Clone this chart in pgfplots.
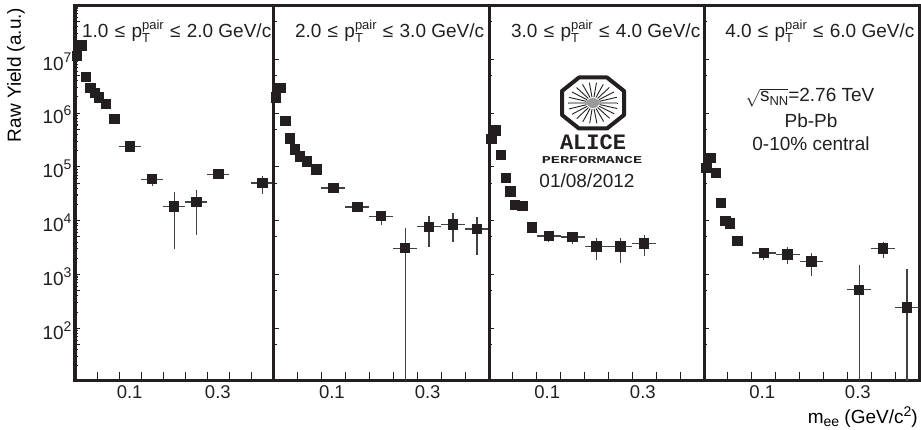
\documentclass[border=0pt]{standalone}
\usepackage{pgfplots}
\usepackage{pgfplotstable}
\usepackage{fontspec}
\setmainfont{Liberation Sans}
\newfontfamily\logofont{Liberation Mono}
\pgfplotsset{compat=1.18}
\definecolor{ink}{HTML}{231F20}
\newcommand{\tenp}[1]{10\raisebox{8pt}{\fontsize{14}{14}\selectfont #1}}
\newcommand{\ptpair}{p\rlap{\raisebox{-5pt}{\fontsize{13}{13}\selectfont T}}\raisebox{8pt}{\fontsize{13}{13}\selectfont pair}}
\newcommand{\panellabel}[2]{\fontsize{19}{21}\selectfont #1\ \kern1pt≤\kern1pt\ \ptpair\ \kern1pt≤\kern1pt\ #2 GeV/c}

\pgfplotstableread{
x y ex hi lo
0.005 1.16e7 0.005 1.16e7 1.16e7
0.015 1.80e7 0.005 1.80e7 1.80e7
0.025 4.68e6 0.005 4.68e6 4.68e6
0.035 2.96e6 0.005 2.96e6 2.96e6
0.045 2.36e6 0.005 2.36e6 2.36e6
0.055 1.95e6 0.005 1.95e6 1.95e6
0.07  1.49e6 0.01  1.49e6 1.49e6
0.09  7.87e5 0.01  7.87e5 7.87e5
0.125 2.38e5 0.025 2.38e5 2.38e5
0.175 5.9e4  0.025 7.3e4  4.5e4
0.225 1.83e4 0.025 3.38e4 3.0e3
0.275 2.24e4 0.025 3.8e4  5.5e3
0.325 7.3e4  0.025 8.3e4  6.2e4
0.425 5.05e4 0.025 6.7e4  3.2e4
}\panelA
\pgfplotstableread{
x y ex hi lo
0.005 1.96e6 0.005 1.96e6 1.96e6
0.015 2.92e6 0.005 2.92e6 2.92e6
0.025 7.13e5 0.005 7.13e5 7.13e5
0.035 3.35e5 0.005 3.35e5 3.35e5
0.045 2.09e5 0.005 2.09e5 2.09e5
0.055 1.57e5 0.005 1.57e5 1.57e5
0.07  1.25e5 0.01  1.25e5 1.25e5
0.09  8.9e4  0.01  8.9e4  8.9e4
0.125 4.07e4 0.025 4.07e4 4.07e4
0.175 1.81e4 0.025 1.81e4 1.81e4
0.225 1.21e4 0.025 1.5e4  8.3e3
0.275 3.09e3 0.025 7.2e3  10.5
0.325 7.7e3  0.025 1.2e4  3.3e3
0.375 8.5e3  0.025 1.4e4  4.05e3
0.425 7.0e3  0.025 1.17e4 2.3e3
}\panelB
\pgfplotstableread{
x y ex hi lo
0.005 3.26e5 0.005 3.26e5 3.26e5
0.015 4.79e5 0.005 4.79e5 4.79e5
0.025 1.67e5 0.005 1.67e5 1.67e5
0.035 6.3e4  0.005 6.3e4  6.3e4
0.045 3.48e4 0.005 3.48e4 3.48e4
0.055 1.94e4 0.005 1.94e4 1.94e4
0.07  1.89e4 0.01  1.89e4 1.89e4
0.09  7.5e3  0.01  7.5e3  7.5e3
0.125 5.2e3  0.025 6.3e3  4.0e3
0.175 4.95e3 0.025 6.3e3  3.63e3
0.225 3.3e3  0.025 4.8e3  1.85e3
0.275 3.3e3  0.025 4.8e3  1.63e3
0.325 3.8e3  0.025 5.5e3  2.2e3
}\panelC
\pgfplotstableread{
x y ex hi lo
0.005 9.57e4 0.005 9.57e4 9.57e4
0.015 1.47e5 0.005 1.47e5 1.47e5
0.025 7.8e4  0.005 7.8e4  7.8e4
0.035 2.11e4 0.005 2.11e4 2.11e4
0.045 9.8e3  0.005 9.8e3  9.8e3
0.055 8.9e3  0.005 8.9e3  8.9e3
0.07  4.2e3  0.01  4.2e3  4.2e3
0.125 2.5e3  0.025 3.1e3  1.85e3
0.175 2.36e3 0.025 3.2e3  1.57e3
0.225 1.75e3 0.025 2.56e3 9.5e2
0.325 5.2e2  0.025 1.48e3 10.5
0.375 3.05e3 0.025 4.0e3  2.05e3
0.425 2.45e2 0.025 1.26e3 10.5
}\panelD

\pgfplotsset{
  dlbase/.style={
    scale only axis, anchor=south west, height=375.5pt,
    xmin=0, xmax=0.45, ymin=10.5, ymax=1e8,
    clip=false,
    axis line style={line width=3pt, color=ink},
    tick align=inside, xtick pos=bottom, ytick pos=left,
    tick style={color=ink, line width=1.1pt},
  },
  dlx/.style={
    dlbase, ytick=\empty,
    major tick length=9.5pt,
    xtick={0.05,0.1,0.15,0.2,0.25,0.3,0.35,0.4},
    xticklabels={,0.1,,,,0.3,,},
    xticklabel style={xshift=10.5pt, yshift=-1pt, text=ink, font=\fontsize{18.5}{20}\selectfont},
  },
  dlpanel/.style={
    dlbase, xtick=\empty,
    major tick length=5pt,
    minor tick length=3pt,
    ytick={100,1000,10000,100000,1000000,10000000},
  },
  dlinner/.style={
    dlpanel, yticklabels={},
    minor ytick={50,500,5000,50000,500000,5000000,50000000},
  },
  dlmarks/.style={
    only marks, mark=square*, mark size=4.7pt, color=ink,
    mark options={fill=ink, draw=ink, line width=0pt},
    error bars/.cd, x dir=both, x explicit, y dir=both, y explicit,
    error mark=none, error bar style={line width=1.3pt, color=ink!85},
  },
}
\newcommand{\drawpanel}[1]{\addplot+[dlmarks] table[x=x, y=y, x error=ex,
    y error plus expr=\thisrow{hi}-\thisrow{y},
    y error minus expr=\thisrow{y}-\thisrow{lo}] {#1};}

\begin{document}
\begin{tikzpicture}[x=1pt,y=1pt]
\useasboundingbox (0,0) rectangle (921,430);
% x ticks and their labels
\begin{semilogyaxis}[dlx, at={(75pt,49pt)}, width=198.5pt]\end{semilogyaxis}
\begin{semilogyaxis}[dlx, at={(273.5pt,49pt)}, width=215.5pt]\end{semilogyaxis}
\begin{semilogyaxis}[dlx, at={(489pt,49pt)}, width=215pt]\end{semilogyaxis}
\begin{semilogyaxis}[dlx, at={(704pt,49pt)}, width=215pt]\end{semilogyaxis}
% y ticks and data
\begin{semilogyaxis}[dlpanel, at={(75pt,49pt)}, width=198.5pt,
    yticklabels={\tenp{2},\tenp{3},\tenp{4},\tenp{5},\tenp{6},\tenp{7}},
    yticklabel style={text=ink, yshift=-2pt, font=\fontsize{19}{20}\selectfont},
    minor ytick={20,30,40,60,70,80,90,200,300,400,600,700,800,900,2000,3000,4000,6000,7000,8000,9000,20000,30000,40000,60000,70000,80000,90000,200000,300000,400000,600000,700000,800000,900000,2000000,3000000,4000000,6000000,7000000,8000000,9000000,20000000,30000000,40000000,60000000,70000000,80000000,90000000},
    extra y ticks={50,500,5000,50000,500000,5000000,50000000},
    extra y tick labels={},
    ylabel={\fontsize{19}{20}\selectfont Raw Yield (a.u.)},
    ylabel style={color=ink},
    every axis y label/.style={at={(rel axis cs:-0.297,0.815)}, rotate=90, anchor=center},
  ]
  \drawpanel{\panelA}
  \node[anchor=base west, inner sep=0pt, text=ink] at (rel axis cs:0.035,0.916) {\panellabel{1.0}{2.0}};
\end{semilogyaxis}
\begin{semilogyaxis}[dlinner, at={(273.5pt,49pt)}, width=215.5pt]
  \drawpanel{\panelB}
  \node[anchor=base west, inner sep=0pt, text=ink] at (rel axis cs:0.099,0.916) {\panellabel{2.0}{3.0}};
\end{semilogyaxis}
\begin{semilogyaxis}[dlinner, at={(489pt,49pt)}, width=215pt]
  \drawpanel{\panelC}
  \node[anchor=base west, inner sep=0pt, text=ink] at (rel axis cs:0.102,0.916) {\panellabel{3.0}{4.0}};
\end{semilogyaxis}
\begin{semilogyaxis}[dlinner, at={(704pt,49pt)}, width=215pt,
    xlabel={\fontsize{19}{20}\selectfont m\raisebox{-3pt}{\fontsize{14}{14}\selectfont ee} (GeV/c\raisebox{7.5pt}{\fontsize{14}{14}\selectfont 2})},
    xlabel style={color=ink},
    every axis x label/.style={at={(rel axis cs:0.995,-0.096)}, anchor=east, inner sep=0pt},
  ]
  \drawpanel{\panelD}
  \node[anchor=base west, inner sep=0pt, text=ink] at (rel axis cs:0.098,0.916) {\panellabel{4.0}{6.0}};
\end{semilogyaxis}
% annotations of the last panel
\begin{scope}[every node/.style={text=ink, font=\fontsize{19}{21}\selectfont, anchor=base, inner sep=0pt}]
\node at (810,328) {$\sqrt{\mbox{s\raisebox{-3.5pt}{\fontsize{13}{13}\selectfont NN}}}$=2.76 TeV};
\node at (811,302.5) {Pb-Pb};
\node at (811,279) {0-10\% central};
\node at (587,242) {01/08/2012};
\end{scope}
% ALICE logo
\begin{scope}[shift={(593,327)}]
  \draw[line width=4pt, color=ink, join=bevel]
    (-31,-12) -- (-31,12) -- (-14,25.5) -- (14,25.5) -- (31,12) -- (31,-12) -- (14,-25.5) -- (-14,-25.5) -- cycle;
  \foreach \a in {0,16.4,...,359} {
    \draw[line width=0.9pt, color=ink] ({7*cos(\a)},{6*sin(\a)}) -- ({25*cos(\a)},{20.5*sin(\a)});
  }
  \fill[gray!70] (-7,-2.5) rectangle (7,2.5);
  \fill[gray!70] (-24,-1.3) rectangle (24,1.3);
  \fill[gray!80] (0,0) ellipse (6 and 5);
\end{scope}
\node[anchor=center, inner sep=0pt, text=ink, font=\logofont\bfseries\fontsize{22}{22}\selectfont] at (593,288) {ALICE};
\node[anchor=center, inner sep=0pt, text=ink, xscale=1.45, font=\logofont\bfseries\fontsize{10.5}{11}\selectfont] at (592,270) {PERFORMANCE};
\end{tikzpicture}
\end{document}
